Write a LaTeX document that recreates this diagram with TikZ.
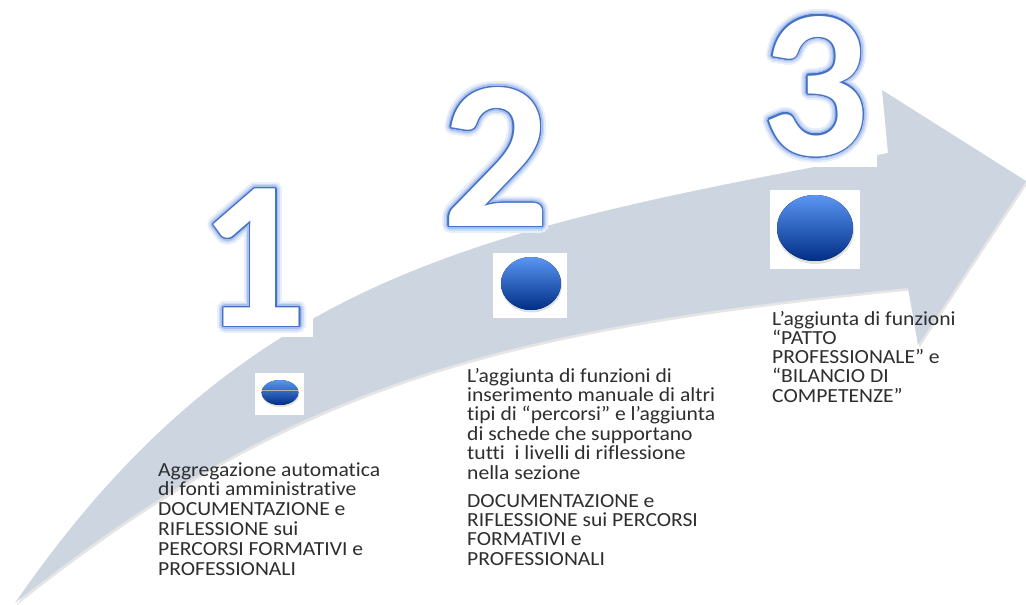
\documentclass[tikz,border=0pt]{standalone}
\usepackage{fontspec}
\setmainfont{Carlito}[FakeStretch=1.08, Ligatures=NoCommon]
\newfontfamily\numfont{Carlito}
\usetikzlibrary{shadings}
\definecolor{arrowgray}{HTML}{CDD5E0}
\definecolor{numline}{HTML}{4472C4}
\definecolor{glowA}{HTML}{E8EFFB}
\definecolor{glowB}{HTML}{CCDAF5}
\definecolor{glowC}{HTML}{A6BFEE}
\definecolor{balltop}{HTML}{5A96F2}
\definecolor{ballbot}{HTML}{002E86}
\definecolor{txt}{HTML}{2E2E2E}
\newcommand\arrowpath{(15,603) .. controls (245,269.5) and (488,229) .. (888,153) -- (882,90) -- (1026,181) -- (918,345) -- (908,288) .. controls (508,328) and (295,379) .. (15,603) -- cycle}
\newcommand\bignum[4]{%
  \foreach \r/\c/\s in {6.5/glowA/15,4.5/glowB/15,2.8/glowC/20,1.3/numline/20}{%
    \foreach \a in {0,\s,...,359}{%
      \node[numstyle, text=\c, shift={(\a:\r)}] (#1-\r-\a) at (#2,#3) {#4};
    }
  }
  \node[numstyle, text=white] (#1) at (#2,#3) {#4};
}
\begin{document}
\begin{tikzpicture}[x=1pt,y=-1pt,
  numstyle/.style={font=\numfont\bfseries\fontsize{212}{212}\selectfont, inner sep=0pt, anchor=base},
  lbl/.style={font=\fontsize{20}{20}\selectfont, text=txt, inner sep=0pt, anchor=base west},
  wbox/.style={fill=white, draw=none},
  ball/.style={top color=balltop, bottom color=ballbot, draw=none},
  ballshadow/.style={fill=black, opacity=0.12, draw=none}]
\useasboundingbox (0,0) rectangle (1026,605);
\fill[white] (0,0) rectangle (1026,605);
% arrow
\fill[black, opacity=0.10, shift={(1.5,2.5)}] \arrowpath;
\fill[arrowgray] \arrowpath;
% white boxes behind numbers
\fill[wbox] (190,175) rectangle (313,337);
\fill[wbox] (430,70) rectangle (548,229);
\fill[wbox] (750,0) rectangle (877,167);
% numbers
\bignum{n1}{253.5}{326.5}{1}
\bignum{n2}{496}{226.5}{2}
\bignum{n3}{815}{155}{3}
% balls
\fill[wbox] (255,373) rectangle (304,415);
\fill[ballshadow] (280.5,394) ellipse [x radius=18.8, y radius=13];
\fill[ball] (280,392.5) ellipse [x radius=18.3, y radius=12.5];
\begin{scope}
\clip (280,392.5) ellipse [x radius=18.3, y radius=12.5];
\draw[gray!60, line width=0.8pt] (260,390) -- (300,390);
\end{scope}
\fill[wbox] (493,253) rectangle (567,318);
\fill[ballshadow] (531.5,285.5) ellipse [x radius=30.5, y radius=27];
\fill[ball] (531,283.5) ellipse [x radius=30, y radius=26.5];
\fill[wbox] (770,190) rectangle (860,269);
\fill[ballshadow] (815.5,230.5) ellipse [x radius=38.5, y radius=33.5];
\fill[ball] (815,228) ellipse [x radius=38, y radius=33];
% texts
\foreach \i/\y/\t in {1/476/Aggregazione automatica,2/495.8/di fonti amministrative,3/515.6/DOCUMENTAZIONE e,4/535.4/RIFLESSIONE sui,5/555.2/PERCORSI FORMATIVI e,6/575/PROFESSIONALI}{
  \node[lbl] (ta\i) at (158,\y) {\t};
}
\foreach \i/\y/\t in {1/382/L’aggiunta di funzioni di,2/401.4/inserimento manuale di altri,3/420.8/tipi di “percorsi” e l’aggiunta,4/440.2/di schede che supportano,5/459.6/tutti\ \ i livelli di riflessione,6/479/nella sezione,7/507/DOCUMENTAZIONE e,8/526.3/RIFLESSIONE sui PERCORSI,9/545.6/FORMATIVI e,10/565/PROFESSIONALI}{
  \node[lbl] (tb\i) at (467,\y) {\t};
}
\foreach \i/\y/\t in {1/325/L’aggiunta di funzioni,2/344.3/“PATTO,3/363.6/PROFESSIONALE” e,4/382.9/“BILANCIO DI,5/402.2/COMPETENZE”}{
  \node[lbl] (tc\i) at (772,\y) {\t};
}
\end{tikzpicture}
\end{document}
